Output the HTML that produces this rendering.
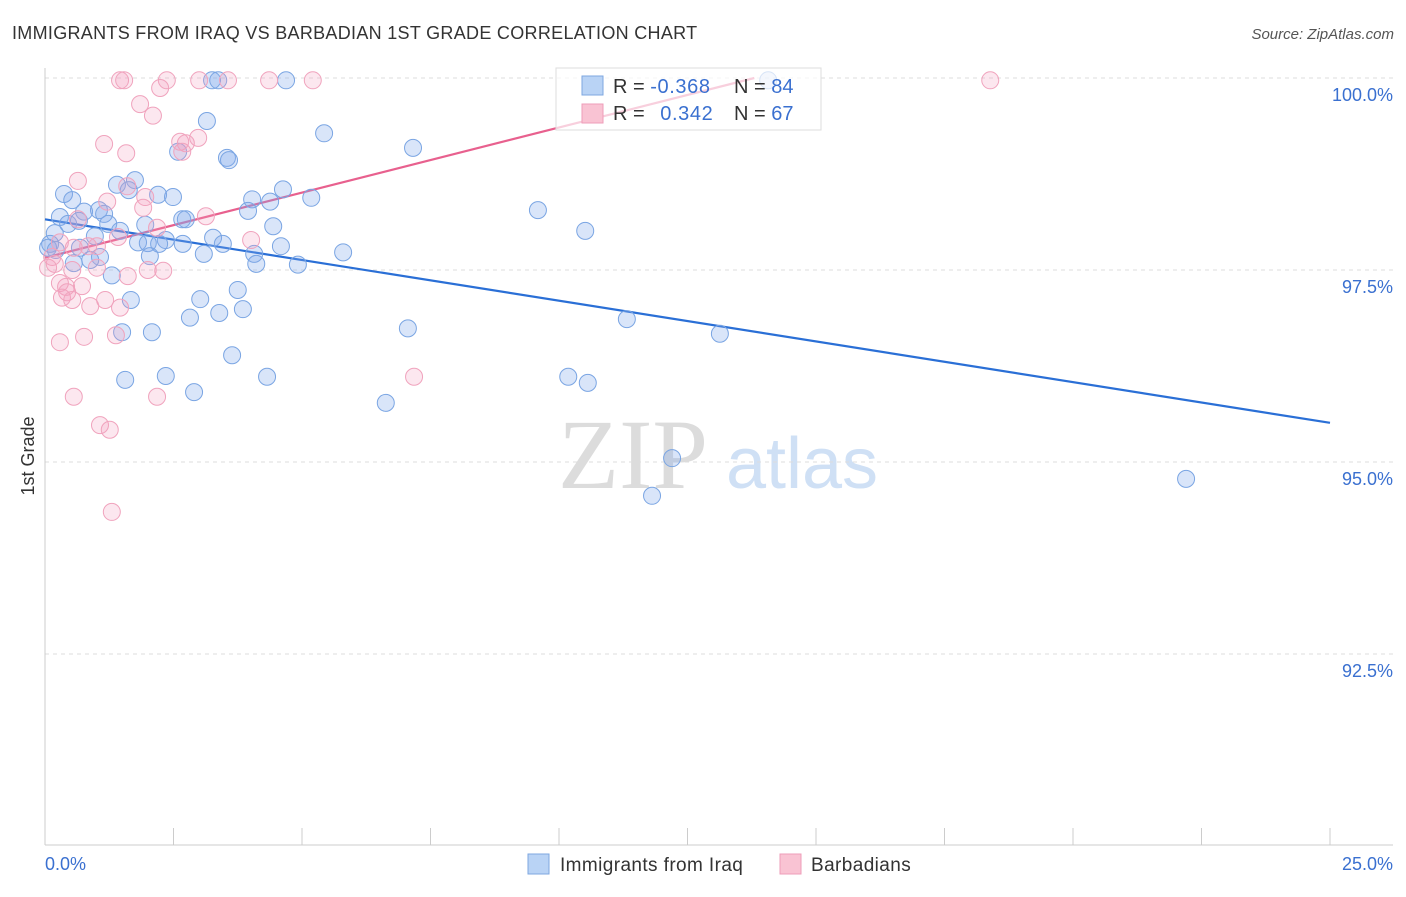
<!DOCTYPE html>
<html><head><meta charset="utf-8"><style>
body{margin:0;background:#fff;font-family:"Liberation Sans",sans-serif;}
</style></head><body>
<svg id="chart" width="1406" height="892" xmlns="http://www.w3.org/2000/svg" font-family="Liberation Sans, sans-serif">
<text x="12" y="39" font-size="18" fill="#333" letter-spacing="0.3">IMMIGRANTS FROM IRAQ VS BARBADIAN 1ST GRADE CORRELATION CHART</text>
<text x="1394" y="39" font-size="15" fill="#555" text-anchor="end" font-style="italic">Source: ZipAtlas.com</text>
<g>
<text x="633" y="488" font-size="100" fill="#dcdcdc" text-anchor="middle" font-family="Liberation Serif, serif">ZIP</text>
<text x="802" y="488" font-size="72" fill="#cfe0f5" text-anchor="middle">atlas</text>
</g>
<g id="grid"></g><g id="axes"></g><g id="trend"></g><g id="pts"></g>
<text transform="translate(34,456) rotate(-90)" font-size="18" fill="#333" text-anchor="middle">1st Grade</text>
<g>
<rect x="556" y="68" width="265" height="62" fill="#fff" fill-opacity="0.7" stroke="#ddd"/>
<rect x="582" y="76" width="21" height="19" fill="#b9d3f5" stroke="#7ea7e0"/>
<rect x="582" y="104" width="21" height="19" fill="#f9c3d3" stroke="#ee9cb8"/>
<text x="613" y="93" font-size="20" fill="#333">R = <tspan fill="#3a70d0" letter-spacing="0.6">-0.368</tspan></text>
<text x="734" y="93" font-size="20" fill="#333">N = <tspan fill="#3a70d0">84</tspan></text>
<text x="613" y="120" font-size="20" fill="#333">R = <tspan fill="#3a70d0" dx="10" letter-spacing="0.6">0.342</tspan></text>
<text x="734" y="120" font-size="20" fill="#333">N = <tspan fill="#3a70d0">67</tspan></text>
</g>
<g>
<rect x="528" y="854" width="21" height="20" fill="#b9d3f5" stroke="#7ea7e0"/>
<text x="560" y="871" font-size="19" fill="#333" letter-spacing="0.4">Immigrants from Iraq</text>
<rect x="780" y="854" width="21" height="20" fill="#f9c3d3" stroke="#ee9cb8"/>
<text x="811" y="871" font-size="19" fill="#333" letter-spacing="0.4">Barbadians</text>
</g>
</svg>
<script>
const blueX=[3.25,3.37,4.69,14.07,3.15,5.43,7.16,2.59,3.54,3.58,1.75,1.40,1.63,2.20,2.49,0.37,0.53,4.03,4.63,5.18,4.38,1.05,0.76,3.95,9.59,0.29,1.15,2.67,2.74,0.45,0.66,1.23,1.95,4.44,10.51,0.19,1.46,0.97,3.27,1.81,2.35,2.00,2.22,2.68,3.46,4.59,0.10,0.06,0.21,0.68,5.80,3.09,4.07,2.04,1.07,0.88,0.56,4.11,4.92,1.30,3.75,3.02,1.67,3.85,3.39,2.82,7.06,11.32,13.13,1.50,2.08,3.64,1.56,2.35,4.32,10.18,10.56,2.90,6.63,12.20,11.81,22.20];
const blueY=[99.97,99.97,99.97,99.97,99.44,99.28,99.09,99.04,98.96,98.93,98.67,98.61,98.54,98.48,98.45,98.49,98.41,98.42,98.55,98.44,98.39,98.28,98.26,98.27,98.28,98.19,98.23,98.16,98.16,98.10,98.14,98.10,98.09,98.07,98.01,97.98,98.01,97.94,97.92,97.86,97.89,97.85,97.84,97.84,97.84,97.81,97.84,97.79,97.76,97.79,97.73,97.71,97.71,97.68,97.67,97.63,97.59,97.58,97.57,97.43,97.24,97.12,97.11,96.99,96.94,96.88,96.74,96.86,96.67,96.69,96.69,96.39,96.07,96.12,96.11,96.11,96.03,95.91,95.77,95.05,94.56,94.78];
const pinkX=[1.46,1.54,2.37,3.00,3.56,4.36,5.21,18.39,2.24,1.85,2.10,2.63,2.74,2.98,1.15,1.58,2.67,0.64,1.60,1.95,1.21,1.91,3.13,0.64,2.18,1.42,4.01,0.29,1.01,0.56,0.84,0.14,0.19,2.00,2.30,1.01,1.61,0.53,0.06,0.29,0.41,0.43,0.72,0.33,0.53,1.17,0.88,1.46,1.38,0.76,0.29,2.18,0.56,1.07,1.26,7.18,1.30];
const pinkY=[99.97,99.97,99.97,99.97,99.97,99.97,99.97,99.97,99.87,99.66,99.51,99.17,99.15,99.22,99.14,99.02,99.04,98.66,98.59,98.45,98.39,98.31,98.20,98.16,98.05,97.93,97.89,97.86,97.81,97.79,97.81,97.67,97.58,97.50,97.49,97.53,97.42,97.50,97.53,97.33,97.28,97.21,97.29,97.14,97.11,97.11,97.03,97.01,96.65,96.63,96.56,95.85,95.85,95.48,95.42,96.11,94.35];
const blueTrend=[0,98.16,25,95.51];
const pinkTrend=[0,97.66,13.8,100.0];
const yTicks=[100,97.5,95,92.5];
const yTickLabels=["100.0%","97.5%","95.0%","92.5%"];
const NS="http://www.w3.org/2000/svg";
const sx=v=>45+v*51.4, sy=v=>78+(100-v)*76.8;
function mk(p,t,a){const e=document.createElementNS(NS,t);for(const k in a)e.setAttribute(k,a[k]);const par=typeof p==='string'?document.getElementById(p):p;par.appendChild(e);return e;}
yTicks.forEach((t,i)=>{
 const l=mk('grid','line',{x1:45,x2:1393,y1:sy(t),y2:sy(t),stroke:'#ddd','stroke-dasharray':'4,4'});
 
 
 const tx=mk('grid','text',{x:1393,y:sy(t)+23,'font-size':18,fill:'#3a70d0','text-anchor':'end'});
 tx.textContent=yTickLabels[i];
 
 
});
const ax=mk('axes','line',{x1:45,x2:45,y1:68,y2:845,stroke:'#ccc'});


const bx=mk('axes','line',{x1:45,x2:1393,y1:845,y2:845,stroke:'#ccc'});


for(let i=0;i<=10;i++){const t=mk('axes','line',{x1:sx(i*2.5),x2:sx(i*2.5),y1:828,y2:845,stroke:'#ccc'});
 
 }
[[0,"0.0%",'start',45],[25,"25.0%",'end',1393]].forEach(d=>{const t=mk('axes','text',{x:d[3],y:870,'font-size':18,fill:'#3a70d0','text-anchor':d[2]});t.textContent=d[1];
 
 });
function pts(X,Y,fill,stroke,name){X.forEach((x,i)=>{const c=mk('pts','circle',{cx:sx(x),cy:sy(Y[i]),r:8.5,fill:fill,stroke:stroke,'stroke-width':1});
 
 });}
pts(blueX,blueY,'rgba(130,170,235,0.3)','#7aa5e3','iraq-point');
pts(pinkX,pinkY,'rgba(245,160,190,0.25)','#f0a3bd','barbadian-point');
const bl=mk('trend','line',{x1:sx(blueTrend[0]),y1:sy(blueTrend[1]),x2:sx(blueTrend[2]),y2:sy(blueTrend[3]),stroke:'#2a6fd6','stroke-width':2.2});


const pl=mk('trend','line',{x1:sx(pinkTrend[0]),y1:sy(pinkTrend[1]),x2:sx(pinkTrend[2]),y2:sy(pinkTrend[3]),stroke:'#e8608e','stroke-width':2.2});


</script>
</body></html>
